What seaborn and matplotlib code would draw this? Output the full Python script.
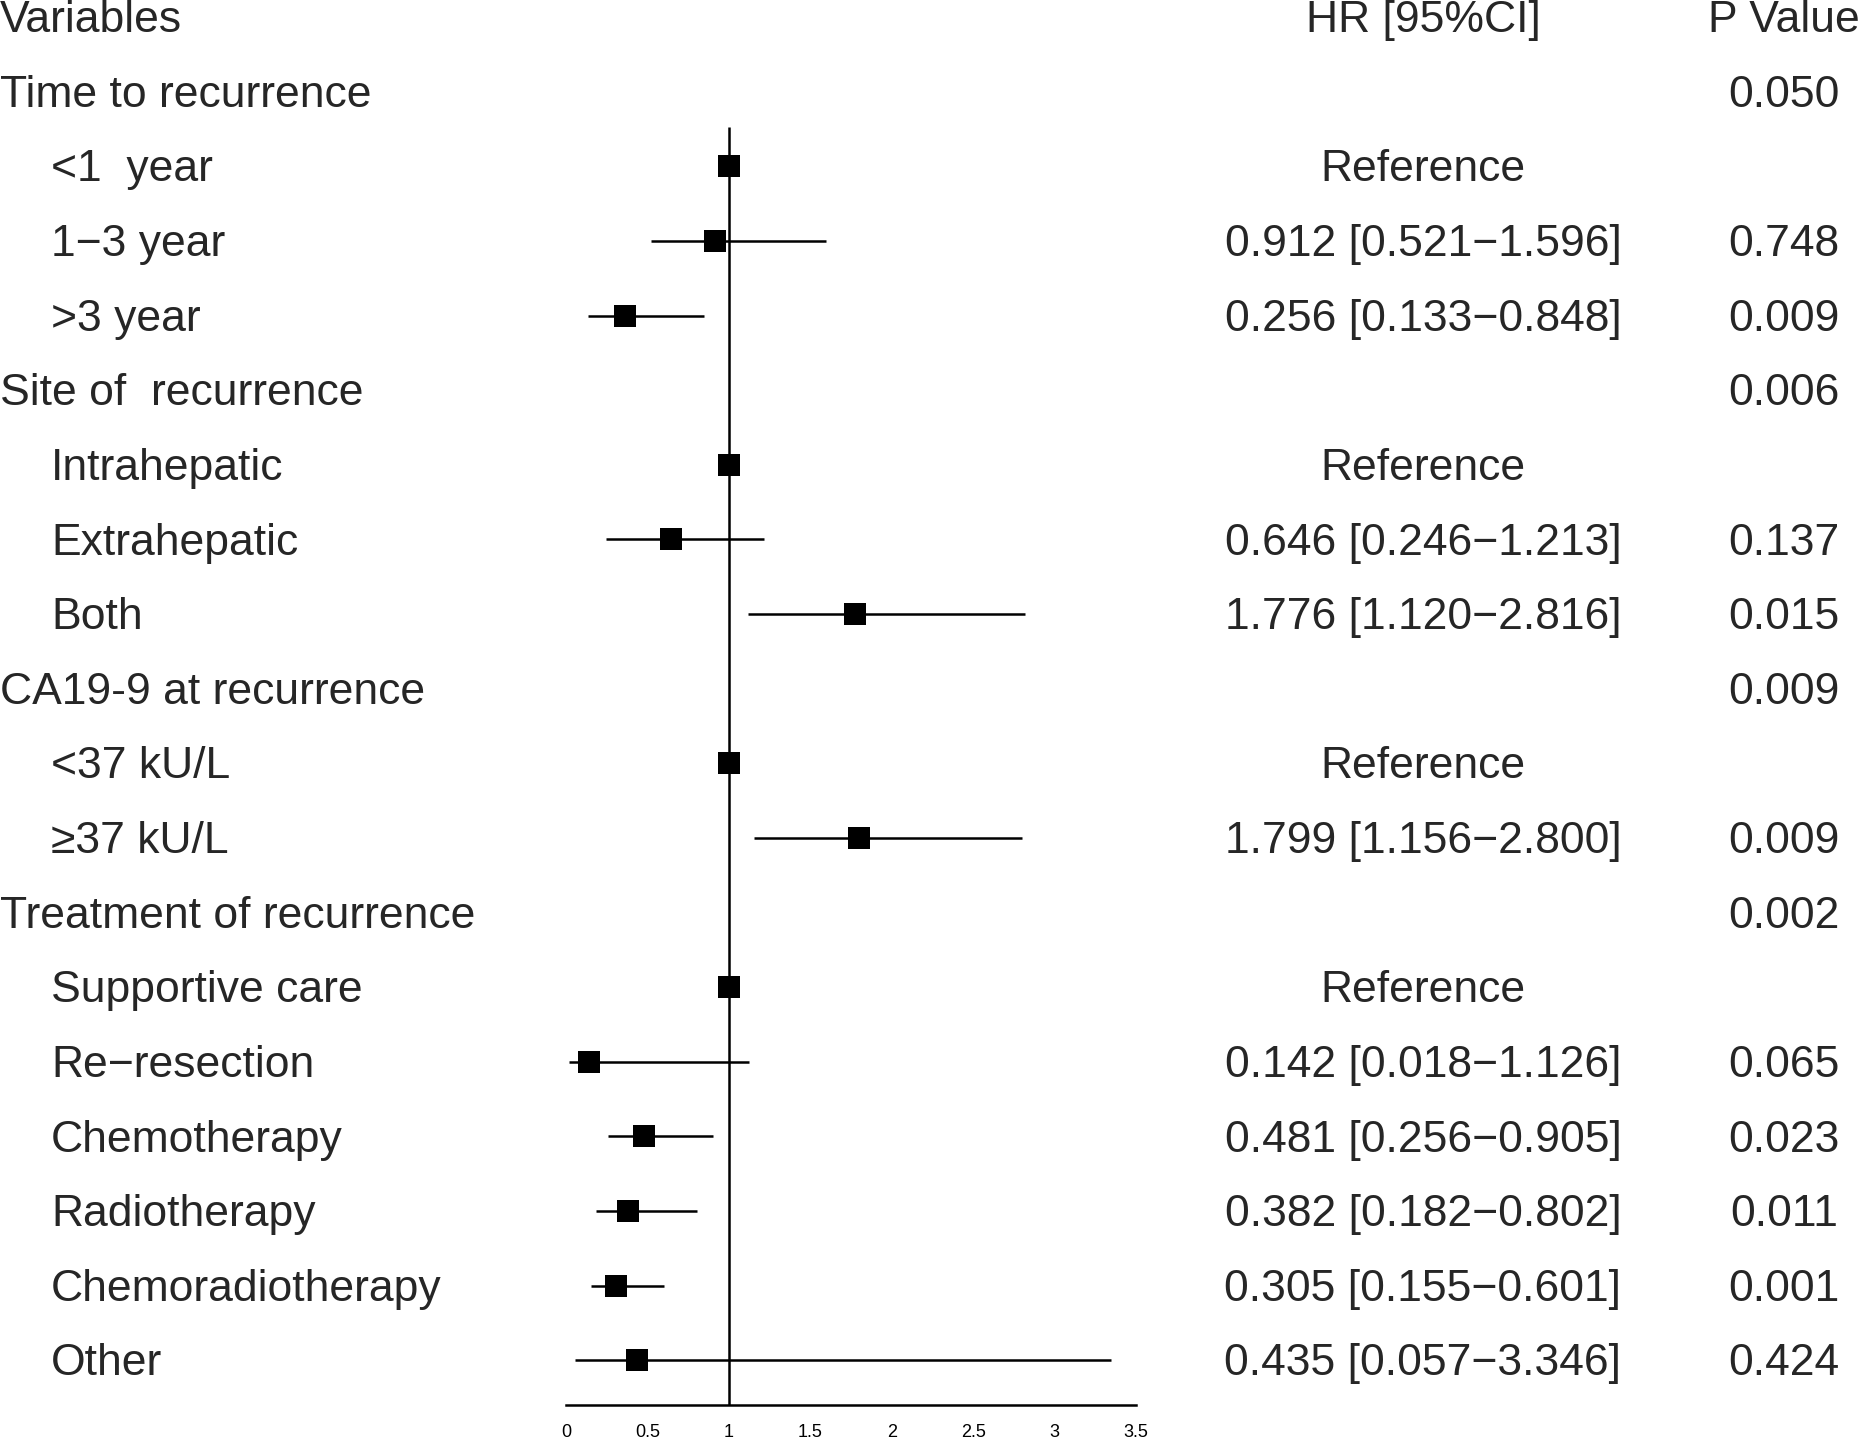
import numpy as np
import pandas as pd
import matplotlib
matplotlib.use("Agg")
import matplotlib.pyplot as plt
import matplotlib.transforms as mtransforms
import seaborn as sns

# rows of the forest plot (header row is drawn separately)
labels = ["Time to recurrence", "<1  year", "1\u22123 year", ">3 year",
          "Site of  recurrence", "Intrahepatic", "Extrahepatic", "Both",
          "CA19-9 at recurrence", "<37 kU/L", "\u226537 kU/L",
          "Treatment of recurrence", "Supportive care", "Re\u2212resection",
          "Chemotherapy", "Radiotherapy", "Chemoradiotherapy", "Other"]
is_group = [True, False, False, False, True, False, False, False,
            True, False, False, True, False, False, False, False, False, False]
hr_text = ["", "Reference", "0.912 [0.521\u22121.596]", "0.256 [0.133\u22120.848]",
           "", "Reference", "0.646 [0.246\u22121.213]", "1.776 [1.120\u22122.816]",
           "", "Reference", "1.799 [1.156\u22122.800]",
           "", "Reference", "0.142 [0.018\u22121.126]", "0.481 [0.256\u22120.905]",
           "0.382 [0.182\u22120.802]", "0.305 [0.155\u22120.601]", "0.435 [0.057\u22123.346]"]
p_text = ["0.050", "", "0.748", "0.009", "0.006", "", "0.137", "0.015",
          "0.009", "", "0.009", "0.002", "", "0.065", "0.023", "0.011", "0.001", "0.424"]
# marker positions as drawn in the picture
hr_plot = [np.nan, 1, 0.912, 0.36, np.nan, 1, 0.646, 1.776, np.nan, 1, 1.799,
           np.nan, 1, 0.142, 0.481, 0.382, 0.305, 0.435]
ci_lo = [np.nan, np.nan, 0.521, 0.133, np.nan, np.nan, 0.246, 1.120, np.nan, np.nan, 1.156,
         np.nan, np.nan, 0.018, 0.256, 0.182, 0.155, 0.057]
ci_hi = [np.nan, np.nan, 1.596, 0.848, np.nan, np.nan, 1.213, 2.816, np.nan, np.nan, 2.800,
         np.nan, np.nan, 1.126, 0.905, 0.802, 0.601, 3.346]
xticks = [0, 0.5, 1, 1.5, 2, 2.5, 3, 3.5]
xtick_labels = ["0", "0.5", "1", "1.5", "2", "2.5", "3", "3.5"]

df = pd.DataFrame({"label": labels, "group": is_group, "hr": hr_plot,
                   "lo": ci_lo, "hi": ci_hi, "hr_text": hr_text, "p": p_text})
df["row"] = np.arange(1, len(df) + 1)

sns.set_style("white")
plt.rcParams['font.family'] = ['Liberation Sans', 'DejaVu Sans']

fig = plt.figure(figsize=(18.6, 14.41), dpi=100)
ax = fig.add_axes([566 / 1860, 1 - 1405 / 1441, 570 / 1860, 1405 / 1441])

ci = df.dropna(subset=["lo"])
ax.hlines(ci["row"], ci["lo"], ci["hi"], color="black", linewidth=1.8)
ax.vlines(1, 1.47, 18.6, color="black", linewidth=1.8)
sns.scatterplot(data=df.dropna(subset=["hr"]), x="hr", y="row", marker="s", s=250,
                color="black", linewidth=0, ax=ax, zorder=3, legend=False)

ax.set_xlim(0, 3.5)
ax.set_ylim(18.6, -0.228)
ax.set_xticks(xticks)
ax.set_xticklabels(xtick_labels, fontsize=13)
ax.set_yticks([])
ax.set_xlabel("")
ax.set_ylabel("")
for s in ["top", "left", "right"]:
    ax.spines[s].set_visible(False)
ax.spines["bottom"].set_linewidth(1.8)
ax.spines["bottom"].set_color("black")
ax.tick_params(axis="x", direction="out", length=10, width=1.8, pad=4, colors="black")
ax.patch.set_alpha(0)

trans = mtransforms.blended_transform_factory(fig.transFigure, ax.transData)
fs = 32
dy = 0.05  # small nudge so text sits level with the markers
ax.text(0.0, dy, "Variables", transform=trans, fontsize=fs, va="center", ha="left", clip_on=False)
ax.text(0.765, dy, "HR [95%CI]", transform=trans, fontsize=fs, va="center", ha="center", clip_on=False)
ax.text(0.959, dy, "P Value", transform=trans, fontsize=fs, va="center", ha="center", clip_on=False)
for _, r in df.iterrows():
    x0 = 0.0 if r["group"] else 0.0274
    ax.text(x0, r["row"] + dy, r["label"], transform=trans, fontsize=fs,
            va="center", ha="left", clip_on=False)
    if r["hr_text"]:
        ax.text(0.765, r["row"] + dy, r["hr_text"], transform=trans, fontsize=fs,
                va="center", ha="center", clip_on=False)
    if r["p"]:
        ax.text(0.959, r["row"] + dy, r["p"], transform=trans, fontsize=fs,
                va="center", ha="center", clip_on=False)

fig.savefig("out.png", dpi=100, facecolor="white")
